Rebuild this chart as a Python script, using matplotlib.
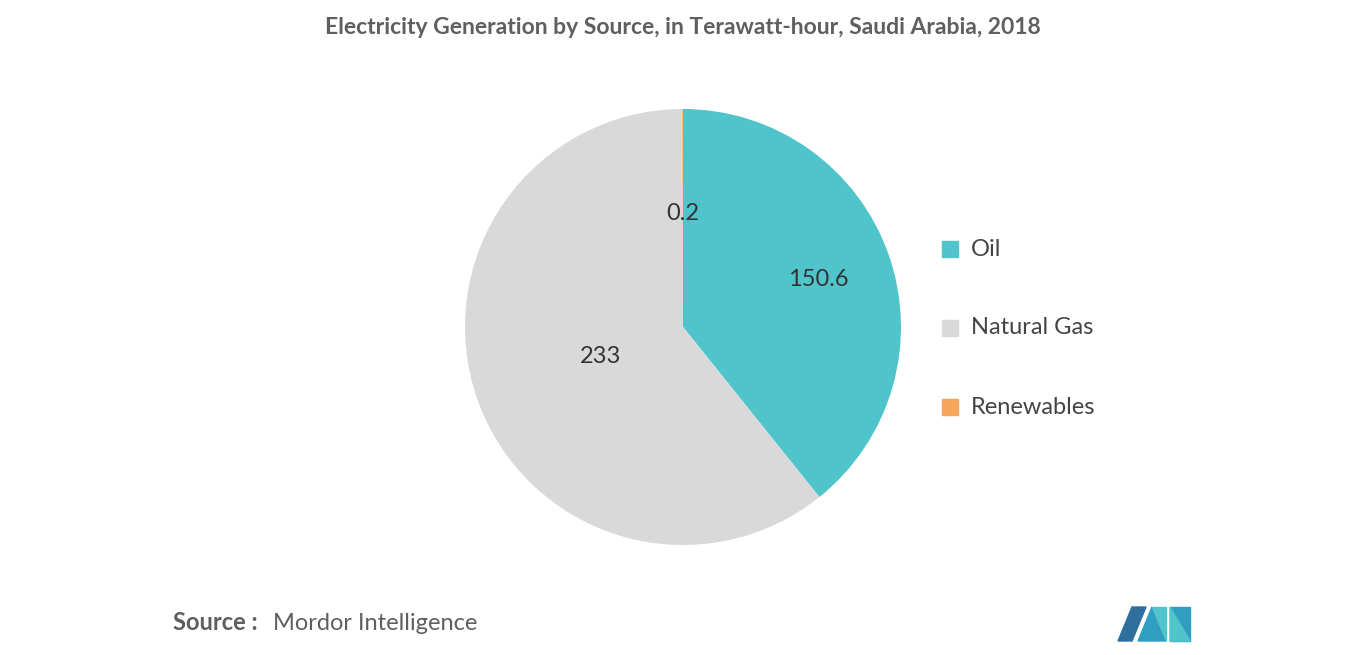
import matplotlib
matplotlib.use("Agg")
import matplotlib.pyplot as plt
import numpy as np
from matplotlib.patches import Polygon

SOURCES = ["Oil", "Natural Gas", "Renewables"]
VALUES = [150.6, 233, 0.2]
VALUE_LABELS = ["150.6", "233", "0.2"]
COLORS = ["#4FC4CA", "#D9D9D9", "#F5A65B"]
LABEL_DIST = [0.66, 0.40, 0.52]

W, H = 1366, 655
fig = plt.figure(figsize=(W / 100, H / 100), dpi=100)
fig.patch.set_facecolor("white")

cx, cy, r = 683, 327, 218
ax = fig.add_axes([(cx - r) / W, (H - cy - r) / H, 2 * r / W, 2 * r / H])
wedges, _ = ax.pie(VALUES, colors=COLORS, startangle=90, counterclock=False,
                   radius=1.0, wedgeprops={"linewidth": 0})
ax.set_xlim(-1, 1)
ax.set_ylim(-1, 1)
ax.set_aspect("equal")

for w, lab, d in zip(wedges, VALUE_LABELS, LABEL_DIST):
    ang = np.deg2rad((w.theta1 + w.theta2) / 2)
    ax.text(d * np.cos(ang), d * np.sin(ang), lab, ha="center", va="center",
            fontsize=17, color="#333333", family="Lato")

# legend
for i, (name, c) in enumerate(zip(SOURCES, COLORS)):
    y = 249 + i * 79
    fig.patches.append(plt.Rectangle((942 / W, 1 - (y + 8) / H), 16 / W, 16 / H,
                                     transform=fig.transFigure, color=c))
    fig.text(971 / W, 1 - y / H, name, fontsize=17, color="#444444",
             va="center", ha="left", family="Lato")

fig.text(683 / W, 1 - 28 / H,
         "Electricity Generation by Source, in Terawatt-hour, Saudi Arabia, 2018",
         ha="center", va="center", fontsize=16.5, color="#5f5f5f",
         fontweight="bold", family="Lato")
fig.text(173 / W, 1 - 623 / H, "Source :", ha="left", va="center",
         fontsize=17, color="#5f5f5f", fontweight="bold", family="Lato")
fig.text(273 / W, 1 - 623 / H, "Mordor Intelligence", ha="left", va="center",
         fontsize=17, color="#5f5f5f", family="Lato")

# logo
def poly(pts, c):
    fig.patches.append(Polygon([(x / W, 1 - y / H) for x, y in pts], closed=True,
                               transform=fig.transFigure, color=c))
poly([(1118, 641), (1132, 607), (1146, 607), (1132, 641)], "#2E6F9E")
poly([(1138, 641), (1152, 607), (1166, 641)], "#2E9FC0")
poly([(1152, 607), (1166, 607), (1166, 641)], "#4FC4CA")
poly([(1170, 607), (1190, 607), (1190, 641), (1170, 641)], "#2E9FC0")
poly([(1170, 607), (1190, 641), (1170, 641)], "#4FC4CA")

fig.savefig("out.png", dpi=100, facecolor="white")
